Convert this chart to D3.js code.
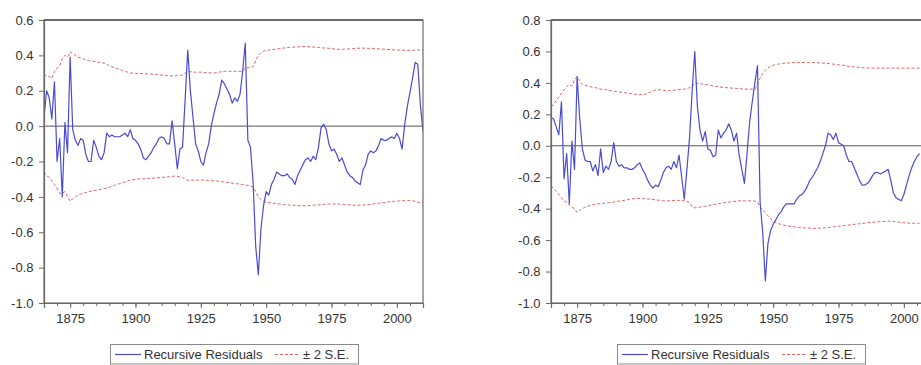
<!DOCTYPE html>
<html>
<head>
<meta charset="utf-8">
<script src="https://cdn.jsdelivr.net/npm/d3@7/dist/d3.min.js"></script>
<style>
  html, body { margin: 0; padding: 0; background: #fff; }
  svg { display: block; }
  text { font-family: "Liberation Sans", Arial, sans-serif; }
</style>
</head>
<body>
<svg id="chart" width="921" height="365"></svg>
<script>
// ---------- DATA ----------
const xTickLabels = [1875, 1900, 1925, 1950, 1975, 2000];
const leftYTicks = [-1.0, -0.8, -0.6, -0.4, -0.2, 0.0, 0.2, 0.4, 0.6];
const rightYTicks = [-1.0, -0.8, -0.6, -0.4, -0.2, 0.0, 0.2, 0.4, 0.6, 0.8];
const legendLabels = ["Recursive Residuals", "\u00B1 2 S.E."];

const leftStartYear = 1865;
const leftResid = [
  0.05, 0.20, 0.16, 0.04, 0.25, -0.20, -0.07, -0.40, 0.02, -0.15,
  0.39, -0.02, -0.08, -0.11, -0.07, -0.08, -0.16, -0.20, -0.20, -0.08,
  -0.12, -0.17, -0.19, -0.15, -0.04, -0.06, -0.05, -0.06, -0.06, -0.06,
  -0.05, -0.04, -0.06, -0.02, -0.07, -0.08, -0.10, -0.13, -0.18, -0.19,
  -0.17, -0.15, -0.12, -0.10, -0.07, -0.06, -0.07, -0.10, -0.10, 0.03,
  -0.10, -0.24, -0.13, -0.12, 0.15, 0.43, 0.20, 0.05, -0.10, -0.14,
  -0.20, -0.22, -0.15, -0.10, 0.00, 0.07, 0.13, 0.18, 0.26, 0.24,
  0.21, 0.18, 0.13, 0.16, 0.14, 0.18, 0.31, 0.47, -0.08, -0.12,
  -0.32, -0.68, -0.84, -0.58, -0.45, -0.37, -0.39, -0.33, -0.30, -0.26,
  -0.27, -0.28, -0.28, -0.27, -0.29, -0.30, -0.33, -0.28, -0.25, -0.22,
  -0.19, -0.18, -0.20, -0.17, -0.19, -0.12, -0.01, 0.01, -0.02, -0.10,
  -0.14, -0.13, -0.16, -0.20, -0.18, -0.22, -0.26, -0.28, -0.29, -0.31,
  -0.32, -0.33, -0.25, -0.22, -0.16, -0.14, -0.15, -0.14, -0.11, -0.07,
  -0.08, -0.08, -0.07, -0.06, -0.07, -0.04, -0.07, -0.13, 0.01, 0.11,
  0.19, 0.27, 0.36, 0.35, 0.12, -0.03
];
const leftUpper = [
  0.28, 0.29, 0.28, 0.27, 0.31, 0.33, 0.34, 0.38, 0.40, 0.39,
  0.42, 0.41, 0.40, 0.39, 0.385, 0.38, 0.375, 0.37, 0.37, 0.365,
  0.365, 0.36, 0.36, 0.355, 0.35, 0.34, 0.335, 0.33, 0.325, 0.32,
  0.315, 0.31, 0.305, 0.30, 0.30, 0.298, 0.297, 0.297, 0.296, 0.296,
  0.295, 0.294, 0.293, 0.292, 0.29, 0.289, 0.288, 0.287, 0.285, 0.284,
  0.284, 0.286, 0.287, 0.29, 0.30, 0.31, 0.308, 0.305, 0.305, 0.305,
  0.305, 0.303, 0.302, 0.302, 0.30, 0.30, 0.302, 0.305, 0.308, 0.31,
  0.31, 0.31, 0.31, 0.31, 0.31, 0.31, 0.31, 0.33, 0.33, 0.33,
  0.335, 0.37, 0.40, 0.415, 0.425, 0.428, 0.43, 0.432, 0.434, 0.436,
  0.438, 0.44, 0.442, 0.444, 0.445, 0.446, 0.447, 0.448, 0.449, 0.45,
  0.45, 0.449, 0.448, 0.447, 0.446, 0.445, 0.443, 0.442, 0.441, 0.44,
  0.438, 0.436, 0.435, 0.434, 0.434, 0.435, 0.436, 0.437, 0.438, 0.439,
  0.44, 0.441, 0.441, 0.44, 0.44, 0.439, 0.438, 0.437, 0.437, 0.436,
  0.435, 0.434, 0.433, 0.432, 0.431, 0.43, 0.43, 0.429, 0.429, 0.428,
  0.428, 0.428, 0.43, 0.43, 0.43, 0.43
];
const leftLower = [
  -0.26, -0.28, -0.29, -0.31, -0.33, -0.35, -0.38, -0.38, -0.37, -0.40,
  -0.425, -0.41, -0.40, -0.39, -0.385, -0.38, -0.375, -0.37, -0.368, -0.365,
  -0.362, -0.36, -0.357, -0.354, -0.35, -0.345, -0.34, -0.335, -0.33, -0.325,
  -0.32, -0.315, -0.31, -0.305, -0.302, -0.30, -0.299, -0.298, -0.298, -0.297,
  -0.296, -0.295, -0.294, -0.293, -0.292, -0.29, -0.289, -0.288, -0.286, -0.284,
  -0.283, -0.284, -0.287, -0.29, -0.30, -0.306, -0.306, -0.305, -0.305, -0.305,
  -0.305, -0.305, -0.306, -0.307, -0.308, -0.309, -0.31, -0.312, -0.314, -0.316,
  -0.318, -0.32, -0.322, -0.324, -0.326, -0.328, -0.33, -0.333, -0.335, -0.338,
  -0.345, -0.37, -0.40, -0.415, -0.425, -0.43, -0.432, -0.434, -0.436, -0.438,
  -0.44, -0.442, -0.444, -0.445, -0.446, -0.447, -0.448, -0.449, -0.45, -0.45,
  -0.45, -0.449, -0.448, -0.447, -0.446, -0.445, -0.443, -0.442, -0.441, -0.44,
  -0.44, -0.44, -0.44, -0.441, -0.442, -0.443, -0.444, -0.445, -0.446, -0.447,
  -0.447, -0.447, -0.446, -0.445, -0.444, -0.442, -0.44, -0.438, -0.436, -0.434,
  -0.432, -0.43, -0.428, -0.426, -0.425, -0.424, -0.423, -0.422, -0.421, -0.42,
  -0.42, -0.422, -0.425, -0.43, -0.433, -0.435
];

const rightStartYear = 1865;
const rightResid = [
  0.18, 0.17, 0.12, 0.07, 0.28, -0.21, -0.05, -0.37, 0.03, -0.15,
  0.44, 0.17, -0.02, -0.09, -0.10, -0.10, -0.16, -0.12, -0.19, -0.02,
  -0.17, -0.13, -0.15, -0.10, 0.02, -0.10, -0.13, -0.12, -0.14, -0.14,
  -0.15, -0.15, -0.14, -0.12, -0.11, -0.15, -0.18, -0.22, -0.25, -0.27,
  -0.25, -0.26, -0.22, -0.17, -0.14, -0.13, -0.15, -0.10, -0.14, -0.06,
  -0.20, -0.34, -0.15, 0.05, 0.35, 0.60, 0.25, 0.10, 0.03, 0.09,
  -0.02, -0.03, -0.07, -0.06, 0.10, 0.05, 0.08, 0.10, 0.14, 0.10,
  0.03, 0.08, -0.06, -0.15, -0.24, -0.05, 0.15, 0.28, 0.40, 0.51,
  -0.36, -0.55, -0.86, -0.62, -0.54, -0.50, -0.47, -0.44, -0.42, -0.39,
  -0.37, -0.37, -0.37, -0.37, -0.34, -0.32, -0.31, -0.29, -0.26, -0.22,
  -0.20, -0.17, -0.14, -0.10, -0.05, 0.00, 0.08, 0.07, 0.04, 0.08,
  0.02, 0.01, 0.00, -0.06, -0.10, -0.10, -0.14, -0.18, -0.22, -0.25,
  -0.25, -0.24, -0.22, -0.19, -0.17, -0.17, -0.18, -0.17, -0.16, -0.15,
  -0.22, -0.30, -0.33, -0.34, -0.35, -0.31, -0.25, -0.19, -0.14, -0.10,
  -0.07, -0.05
];
const rightUpper = [
  0.25, 0.26, 0.29, 0.31, 0.335, 0.356, 0.377, 0.39, 0.38, 0.42,
  0.44, 0.41, 0.39, 0.385, 0.38, 0.375, 0.373, 0.37, 0.365, 0.36,
  0.36, 0.357, 0.355, 0.35, 0.347, 0.345, 0.342, 0.34, 0.338, 0.335,
  0.333, 0.33, 0.328, 0.326, 0.325, 0.325, 0.328, 0.335, 0.342, 0.35,
  0.355, 0.356, 0.355, 0.352, 0.35, 0.35, 0.35, 0.352, 0.355, 0.357,
  0.358, 0.36, 0.362, 0.37, 0.377, 0.40, 0.398, 0.395, 0.392, 0.39,
  0.387, 0.384, 0.381, 0.378, 0.375, 0.373, 0.371, 0.37, 0.368, 0.367,
  0.366, 0.365, 0.363, 0.362, 0.36, 0.36, 0.36, 0.36, 0.36, 0.39,
  0.43, 0.46, 0.48, 0.495, 0.505, 0.512, 0.516, 0.52, 0.522, 0.525,
  0.526, 0.527, 0.528, 0.529, 0.53, 0.53, 0.53, 0.53, 0.53, 0.53,
  0.53, 0.529, 0.528, 0.527, 0.526, 0.525, 0.523, 0.521, 0.519, 0.517,
  0.515, 0.513, 0.511, 0.508, 0.505, 0.503, 0.501, 0.5, 0.498, 0.497,
  0.496, 0.495, 0.494, 0.494, 0.494, 0.494, 0.494, 0.494, 0.494, 0.494,
  0.494, 0.494, 0.494, 0.494, 0.494, 0.494, 0.494, 0.494, 0.494, 0.494,
  0.494, 0.494
];
const rightLower = [
  -0.256, -0.27, -0.29, -0.31, -0.33, -0.35, -0.36, -0.375, -0.39, -0.40,
  -0.425, -0.41, -0.40, -0.39, -0.385, -0.38, -0.376, -0.373, -0.37, -0.368,
  -0.366, -0.364, -0.362, -0.36, -0.358, -0.355, -0.352, -0.35, -0.347, -0.344,
  -0.341, -0.338, -0.336, -0.335, -0.335, -0.336, -0.337, -0.338, -0.34, -0.342,
  -0.344, -0.346, -0.348, -0.35, -0.35, -0.35, -0.349, -0.348, -0.347, -0.347,
  -0.348, -0.35, -0.355, -0.36, -0.39, -0.395, -0.392, -0.39, -0.387, -0.384,
  -0.381, -0.378, -0.375, -0.372, -0.369, -0.366, -0.363, -0.36, -0.358, -0.356,
  -0.354, -0.352, -0.351, -0.35, -0.35, -0.35, -0.35, -0.35, -0.352, -0.36,
  -0.39, -0.41, -0.425, -0.445, -0.465, -0.478, -0.488, -0.495, -0.5, -0.504,
  -0.508, -0.511, -0.514, -0.516, -0.518, -0.52, -0.521, -0.522, -0.523, -0.524,
  -0.525, -0.525, -0.525, -0.524, -0.523, -0.522, -0.52, -0.518, -0.516, -0.514,
  -0.512, -0.51, -0.508, -0.506, -0.504, -0.502, -0.5, -0.498, -0.496, -0.494,
  -0.492, -0.49, -0.488, -0.486, -0.485, -0.484, -0.483, -0.482, -0.481, -0.48,
  -0.48, -0.481, -0.483, -0.485, -0.488, -0.49, -0.491, -0.492, -0.493, -0.493,
  -0.493, -0.493
];

// ---------- DRAW ----------
const svg = d3.select("#chart");
const BLUE = "#4b4bd2", RED = "#e06262", FRAME = "#6a6a6a", TXT = "#333";

function drawPanel(cfg) {
  const g = svg.append("g");
  const x = d3.scaleLinear().domain([1865, 2010]).range([cfg.left, cfg.right]);
  const y = d3.scaleLinear().domain(cfg.yDomain).range([cfg.bottom, cfg.top]);

  const clipId = "clip" + cfg.id;
  svg.append("clipPath").attr("id", clipId).append("rect")
    .attr("x", cfg.left).attr("y", cfg.top)
    .attr("width", cfg.right - cfg.left).attr("height", cfg.bottom - cfg.top);

  // zero line
  g.append("line")
    .attr("x1", cfg.left).attr("x2", cfg.right)
    .attr("y1", y(0)).attr("y2", y(0))
    .attr("stroke", "#555").attr("stroke-width", 1);

  const toPts = (arr, start) => arr.map((v, i) => [start + i, v]);
  const line = d3.line().x(d => x(d[0])).y(d => y(d[1]));
  const lines = g.append("g").attr("clip-path", `url(#${clipId})`);

  [cfg.upper, cfg.lower].forEach(arr => {
    lines.append("path").datum(toPts(arr, cfg.start))
      .attr("d", line).attr("fill", "none")
      .attr("stroke", RED).attr("stroke-width", 1)
      .attr("stroke-dasharray", "3,2");
  });
  lines.append("path").datum(toPts(cfg.resid, cfg.start))
    .attr("d", line).attr("fill", "none")
    .attr("stroke", BLUE).attr("stroke-width", 1.2)
    .attr("stroke-linejoin", "round");

  // frame
  g.append("rect")
    .attr("x", cfg.left).attr("y", cfg.top)
    .attr("width", cfg.right - cfg.left).attr("height", cfg.bottom - cfg.top)
    .attr("fill", "none").attr("stroke", FRAME).attr("stroke-width", 1.2);
  g.append("line").attr("x1", cfg.left).attr("x2", cfg.right)
    .attr("y1", cfg.top).attr("y2", cfg.top)
    .attr("stroke", FRAME).attr("stroke-width", 1.8);

  // y axis
  const yAxis = d3.axisLeft(y).tickValues(cfg.yTicks).tickSize(5).tickPadding(5.5)
    .tickFormat(d => d.toFixed(1));
  const ya = g.append("g").attr("transform", `translate(${cfg.left},0)`).call(yAxis);
  ya.select(".domain").attr("stroke", FRAME).attr("stroke-width", 1.2);
  ya.selectAll(".tick line").attr("stroke", FRAME);
  ya.selectAll("text").attr("fill", TXT).style("font-size", "13px")
    .style("font-family", '"Liberation Sans", Arial, sans-serif');

  // x axis: minor ticks every 5 years, labels every 25
  const minor = d3.range(1865, 2011, 5);
  const xm = d3.axisBottom(x).tickValues(minor).tickSize(3).tickFormat("");
  const xmg = g.append("g").attr("transform", `translate(0,${cfg.bottom})`).call(xm);
  xmg.select(".domain").remove();
  xmg.selectAll(".tick line").attr("stroke", FRAME);

  const xAxis = d3.axisBottom(x).tickValues(xTickLabels).tickSize(5).tickPadding(6)
    .tickFormat(d3.format("d"));
  const xa = g.append("g").attr("transform", `translate(0,${cfg.bottom})`).call(xAxis);
  xa.select(".domain").attr("stroke", FRAME).attr("stroke-width", 1.2);
  xa.selectAll(".tick line").attr("stroke", FRAME);
  xa.selectAll("text").attr("fill", TXT).style("font-size", "13px")
    .style("font-family", '"Liberation Sans", Arial, sans-serif');

  // legend
  const lg = g.append("g").attr("transform", `translate(${cfg.legendX},344.5)`);
  lg.append("rect").attr("x", 0.5).attr("y", 0).attr("width", 248).attr("height", 19.5)
    .attr("fill", "#fff").attr("stroke", "#8a8a8a").attr("stroke-width", 1);
  lg.append("line").attr("x1", 5).attr("x2", 31).attr("y1", 10).attr("y2", 10)
    .attr("stroke", BLUE).attr("stroke-width", 1.2);
  lg.append("text").attr("x", 34).attr("y", 14.5).text(legendLabels[0])
    .attr("fill", TXT).style("font-size", "13px");
  lg.append("line").attr("x1", 165).attr("x2", 190).attr("y1", 10).attr("y2", 10)
    .attr("stroke", RED).attr("stroke-width", 1).attr("stroke-dasharray", "3,2");
  lg.append("text").attr("x", 193).attr("y", 14.5).text(legendLabels[1])
    .attr("fill", TXT).style("font-size", "13px");
}

drawPanel({
  id: "L", left: 44, right: 423, top: 20, bottom: 303,
  yDomain: [-1.0, 0.6], yTicks: leftYTicks,
  start: leftStartYear, resid: leftResid, upper: leftUpper, lower: leftLower,
  legendX: 110
});
drawPanel({
  id: "R", left: 551, right: 930, top: 20, bottom: 303,
  yDomain: [-1.0, 0.8], yTicks: rightYTicks,
  start: rightStartYear, resid: rightResid, upper: rightUpper, lower: rightLower,
  legendX: 617
});
</script>
</body>
</html>
